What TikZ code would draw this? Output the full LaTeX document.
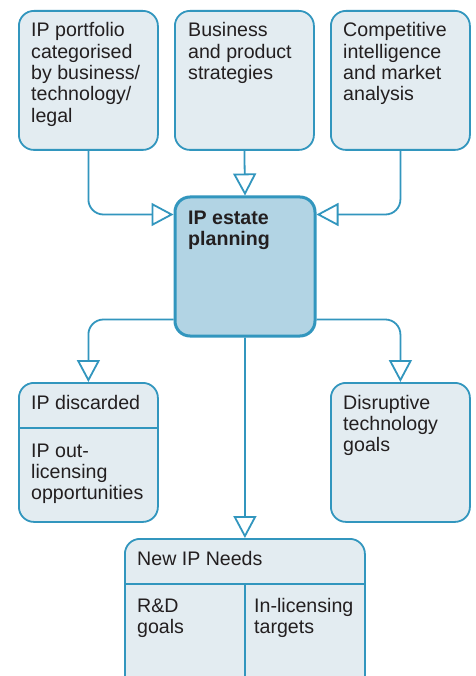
\documentclass[tikz,border=0pt]{standalone}
\usepackage{fontspec}
\setmainfont{Liberation Sans}
\usetikzlibrary{arrows.meta}
\definecolor{edge}{RGB}{50,150,190}
\definecolor{boxfill}{RGB}{227,236,241}
\definecolor{hubfill}{RGB}{178,212,228}
\definecolor{ink}{RGB}{35,31,32}

\begin{document}
\begin{tikzpicture}[x=1pt,y=-1pt,
  box/.style={draw=edge, fill=boxfill, line width=1.8pt, rounded corners=15pt,
    anchor=north west, inner sep=0pt, minimum width=139pt, minimum height=139pt},
  hub/.style={box, fill=hubfill, line width=3pt, minimum width=140pt},
  % labels are placed by the baseline of their last line
  txt/.style={anchor=base west, inner sep=0pt, align=left, text=ink,
    font=\fontsize{19.6}{21.3}\selectfont},
  conn/.style={draw=edge, line width=1.8pt, rounded corners=15pt,
    -{Triangle[open, length=22pt, width=23pt, fill=white]}},
  rule/.style={draw=edge, line width=1.8pt}]

\clip (0,0) rectangle (475,676);
\fill[white] (0,0) rectangle (475,676);

% inputs
\node[box] (port) at (18,10) {};
\node[box] (strat) at (174,10) {};
\node[box] (comp) at (330,10) {};
% central planning step
\node[hub] (hub) at (173.5,195.5) {};
% outcomes
\node[box] (disc) at (18,382) {};
\node[box] (disr) at (330,382) {};
\node[box, minimum width=240pt, minimum height=170pt] (need) at (124,538) {};

% compartment rules
\draw[rule] (disc.west |- 0,428) -- (disc.east |- 0,428);
\draw[rule] (need.west |- 0,584) -- (need.east |- 0,584);
\draw[rule] (need.south |- 0,584) -- (need.south);

% connectors
\draw[conn] (port.south) |- ([yshift=-19pt]hub.north west);
\draw[conn] (strat.south) -- (hub.north);
\draw[conn] (comp.south) |- ([yshift=-19pt]hub.north east);
\draw[conn] ([yshift=18pt]hub.south west) -| (disc.north);
\draw[conn] ([yshift=18pt]hub.south east) -| (disr.north);
\draw[conn] (hub.south) -- (need.north);

% labels
\node[txt] (tport) at (31,122.2) {IP portfolio\\categorised\\by business/\\technology/\\legal};
\node[txt] (tstrat) at (188,79.6) {Business\\and product\\strategies};
\node[txt] (tcomp) at (343,100.9) {Competitive\\intelligence\\and market\\analysis};
\node[txt, font=\fontsize{19.6}{21.3}\selectfont\bfseries] (thub) at (188,245.3) {IP estate\\planning};
\node[txt] (tdisc) at (31,409) {IP discarded};
\node[txt] (tout) at (31,499.6) {IP out-\\licensing\\opportunities};
\node[txt] (tdisr) at (343,451.6) {Disruptive\\technology\\goals};
\node[txt] (tneed) at (137,565) {New IP Needs};
\node[txt] (trd) at (137,633.3) {R\&D\\goals};
\node[txt] (tin) at (254,633.3) {In-licensing\\targets};
\end{tikzpicture}
\end{document}
